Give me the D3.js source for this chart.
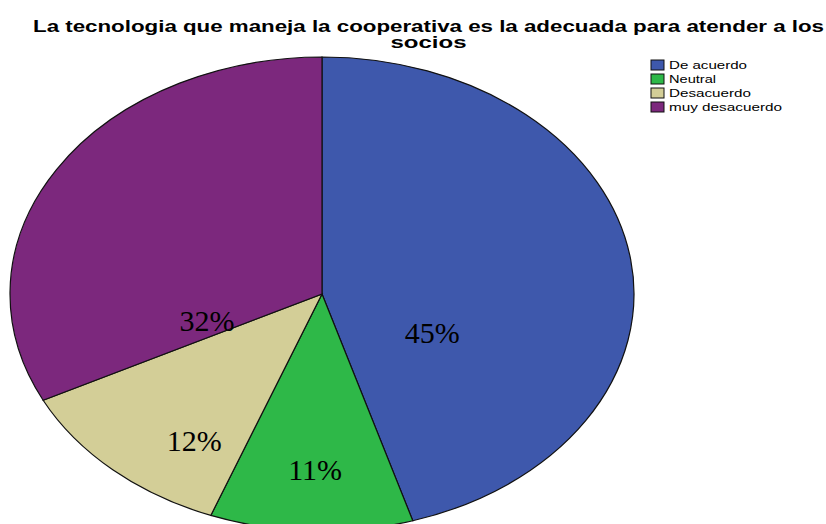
<!DOCTYPE html>
<html>
<head>
<meta charset="utf-8">
<script src="https://cdn.jsdelivr.net/npm/d3@7"></script>
<style>
  html, body { margin: 0; padding: 0; background: #fff; }
  svg { display: block; }
</style>
</head>
<body>
<svg id="chart" width="826" height="524"></svg>
<script>
const categories = ["De acuerdo", "Neutral", "Desacuerdo", "muy desacuerdo"];
const percents = [45.3, 10.5, 11.8, 32.4];
const pctLabels = ["45%", "11%", "12%", "32%"];
const colours = ["#3e58ac", "#2eb848", "#d3ce97", "#7c287d"];
const titleLines = ["La tecnologia que maneja la cooperativa es la adecuada para atender a los", "socios"];

// layout (SPSS puts the labels where it likes, so anchor them by angle / radius fraction)
const labelAnchors = [[114.9, 0.39], [181.7, 0.74], [213.6, 0.74], [253.4, 0.385]];

const svg = d3.select("#chart");
const cx = 322, cy = 294, rx = 312, ry = 237;

const pie = d3.pie().sort(null).value(d => d.value);
const arcs = pie(categories.map((c, i) => ({ name: c, value: percents[i], i })));
const arc = d3.arc().innerRadius(0).outerRadius(ry);

const pieG = svg.append("g")
    .attr("transform", `translate(${cx}, ${cy}) scale(${rx / ry}, 1)`);

pieG.selectAll("path")
    .data(arcs)
    .join("path")
    .attr("d", arc)
    .attr("fill", d => colours[d.data.i])
    .attr("stroke", "#111")
    .attr("stroke-width", 1.2)
    .attr("vector-effect", "non-scaling-stroke");

svg.selectAll(".pct")
    .data(pctLabels)
    .join("text")
    .attr("class", "pct")
    .attr("x", (_, i) => cx + rx * labelAnchors[i][1] * Math.sin(labelAnchors[i][0] * Math.PI / 180))
    .attr("y", (_, i) => cy - ry * labelAnchors[i][1] * Math.cos(labelAnchors[i][0] * Math.PI / 180))
    .attr("text-anchor", "middle")
    .attr("dominant-baseline", "central")
    .attr("font-family", "'Liberation Serif', 'Times New Roman', serif")
    .attr("font-size", 30)
    .attr("fill", "#000")
    .text(d => d);

// title, stretched sideways like the original export
const titleLengths = [791, 76];
svg.selectAll(".title")
    .data(titleLines)
    .join("text")
    .attr("class", "title")
    .attr("x", 428.5)
    .attr("y", (_, i) => 32 + i * 16)
    .attr("text-anchor", "middle")
    .attr("font-family", "'Liberation Sans', Arial, sans-serif")
    .attr("font-weight", "bold")
    .attr("font-size", 16)
    .attr("textLength", (_, i) => titleLengths[i])
    .attr("lengthAdjust", "spacingAndGlyphs")
    .text(d => d);

// legend
const legendLengths = [78, 47, 82, 113];
const legend = svg.selectAll(".legend")
    .data(categories)
    .join("g")
    .attr("class", "legend")
    .attr("transform", (_, i) => `translate(651, ${60 + i * 14})`);

legend.append("rect")
    .attr("width", 13)
    .attr("height", 10)
    .attr("fill", (_, i) => colours[i])
    .attr("stroke", "#111")
    .attr("stroke-width", 1);

legend.append("text")
    .attr("x", 18)
    .attr("y", 9)
    .attr("font-family", "'Liberation Sans', Arial, sans-serif")
    .attr("font-size", 11)
    .attr("textLength", (_, i) => legendLengths[i])
    .attr("lengthAdjust", "spacingAndGlyphs")
    .attr("fill", "#000")
    .text(d => d);
</script>
</body>
</html>
